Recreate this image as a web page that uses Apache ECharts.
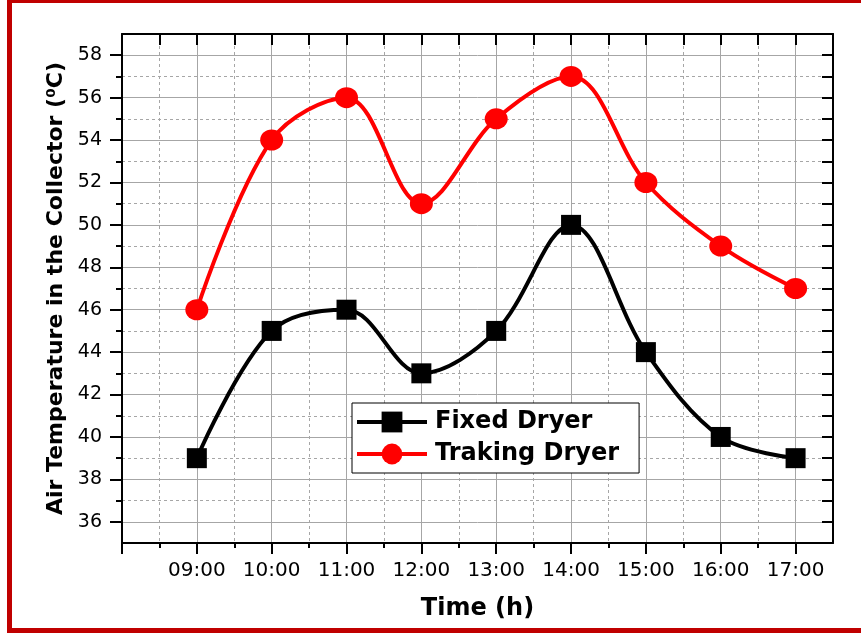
<!DOCTYPE html>
<html>
<head>
<meta charset="utf-8">
<script src="https://cdn.jsdelivr.net/npm/echarts@6/dist/echarts.min.js"></script>
<style>
html,body{margin:0;padding:0;background:#fff;}
#chart{position:absolute;left:0;top:0;width:861px;height:633px;}
.bd{position:absolute;background:#c00000;}
</style>
</head>
<body>
<div id="chart"></div>
<div class="bd" style="left:7px;top:0;width:854px;height:3px;"></div>
<div class="bd" style="left:7px;top:0;width:5px;height:633px;"></div>
<div class="bd" style="left:7px;top:628px;width:854px;height:5px;"></div>
<script>
// Data
const hours = [9, 10, 11, 12, 13, 14, 15, 16, 17];
const fixedDryer = [39, 45, 46, 43, 45, 50, 44, 40, 39];
const trackingDryer = [46, 54, 56, 51, 55, 57, 52, 49, 47];
const seriesNames = ['Fixed Dryer', 'Traking Dryer'];
const yLabels = [36, 38, 40, 42, 44, 46, 48, 50, 52, 54, 56, 58];
const yMinor = [37, 39, 41, 43, 45, 47, 49, 51, 53, 55, 57];
const xMajor = [8, 9, 10, 11, 12, 13, 14, 15, 16, 17];
const xMinor = [8.5, 9.5, 10.5, 11.5, 12.5, 13.5, 14.5, 15.5, 16.5];
const xTitle = 'Time (h)';
const yTitle = 'Air Temperature in the Collector (\u2070C)';

const FONT = 'DejaVu Sans';
const pad = n => (n < 10 ? '0' : '') + n + ':00';
const allY = yLabels.concat(yMinor).sort((a, b) => a - b);
const allX = xMajor.concat(xMinor).concat([17.5]).sort((a, b) => a - b);

const X_MIN = 8, X_MAX = 17.5, Y_MIN = 35, Y_MAX = 59;
const black = '#000';
const gridGray = '#a6a6a6';

const chart = echarts.init(document.getElementById('chart'));
chart.setOption({
  animation: false,
  backgroundColor: '#fff',
  grid: { left: 122, right: 28, top: 34, bottom: 90, containLabel: false },
  legend: {
    orient: 'vertical',
    left: 352, top: 403,
    padding: [7, 20, 7, 3],
    itemGap: 8,
    itemWidth: 70, itemHeight: 26,
    borderColor: '#000', borderWidth: 1,
    backgroundColor: '#fff',
    lineStyle: { width: 4 },
    textStyle: { fontFamily: FONT, fontWeight: 'bold', fontSize: 24, color: '#000', padding: [0, 0, 0, 3] },
    data: seriesNames
  },
  xAxis: [
    {
      type: 'value', min: X_MIN, max: X_MAX, interval: 0.5, position: 'bottom',
      name: xTitle, nameLocation: 'middle', nameGap: 54,
      nameTextStyle: { fontFamily: FONT, fontWeight: 'bold', fontSize: 24, color: '#000' },
      axisLine: { show: true, lineStyle: { color: black, width: 2 } },
      axisTick: { show: true, inside: false, length: 11, customValues: xMajor, lineStyle: { color: black, width: 2 } },
      axisLabel: { show: true, customValues: hours, margin: 18, fontFamily: FONT, fontSize: 20, color: '#000', formatter: v => pad(v) },
      splitLine: { show: true, lineStyle: { color: gridGray, width: 1, type: 'solid' } }
    },
    {
      type: 'value', min: X_MIN, max: X_MAX, interval: 0.5, position: 'bottom',
      axisLine: { show: false },
      axisTick: { show: true, inside: false, length: 5, customValues: xMinor, lineStyle: { color: black, width: 2 } },
      axisLabel: { show: false },
      splitLine: { show: true, lineStyle: { color: gridGray, width: 1, type: [3, 3] } }
    },
    {
      type: 'value', min: X_MIN, max: X_MAX, interval: 0.5, position: 'top',
      axisLine: { show: true, lineStyle: { color: black, width: 2 } },
      axisTick: { show: true, inside: true, length: 11, customValues: allX, lineStyle: { color: black, width: 2 } },
      axisLabel: { show: false },
      splitLine: { show: false }
    }
  ],
  yAxis: [
    {
      type: 'value', min: Y_MIN, max: Y_MAX, interval: 1, position: 'left',
      name: yTitle, nameLocation: 'middle', nameGap: 55, nameRotate: 90,
      nameTextStyle: { fontFamily: FONT, fontWeight: 'bold', fontSize: 22, color: '#000' },
      axisLine: { show: true, lineStyle: { color: black, width: 2 } },
      axisTick: { show: true, inside: false, length: 12, customValues: yLabels, lineStyle: { color: black, width: 2 } },
      axisLabel: { show: true, customValues: yLabels, margin: 20, fontFamily: FONT, fontSize: 19, color: '#000' },
      splitLine: { show: true, lineStyle: { color: gridGray, width: 1, type: 'solid' } }
    },
    {
      type: 'value', min: Y_MIN, max: Y_MAX, interval: 1, position: 'left',
      axisLine: { show: false },
      axisTick: { show: true, inside: false, length: 6, customValues: yMinor, lineStyle: { color: black, width: 2 } },
      axisLabel: { show: false },
      splitLine: { show: true, lineStyle: { color: gridGray, width: 1, type: [3, 3] } }
    },
    {
      type: 'value', min: Y_MIN, max: Y_MAX, interval: 1, position: 'right',
      axisLine: { show: true, lineStyle: { color: black, width: 2 } },
      axisTick: { show: true, inside: true, length: 11, customValues: allY, lineStyle: { color: black, width: 2 } },
      axisLabel: { show: false },
      splitLine: { show: false }
    }
  ],
  series: [
    {
      name: seriesNames[0], type: 'line', xAxisIndex: 0, yAxisIndex: 0,
      data: hours.map((h, i) => [h, fixedDryer[i]]),
      smooth: 0.35,
      symbol: 'rect', symbolSize: 20,
      lineStyle: { color: '#000', width: 4 },
      itemStyle: { color: '#000' },
      z: 3
    },
    {
      name: seriesNames[1], type: 'line', xAxisIndex: 0, yAxisIndex: 0,
      data: hours.map((h, i) => [h, trackingDryer[i]]),
      smooth: 0.35,
      symbol: 'circle', symbolSize: [23, 21],
      lineStyle: { color: '#ff0000', width: 4 },
      itemStyle: { color: '#ff0000' },
      z: 3
    }
  ]
});
</script>
</body>
</html>
